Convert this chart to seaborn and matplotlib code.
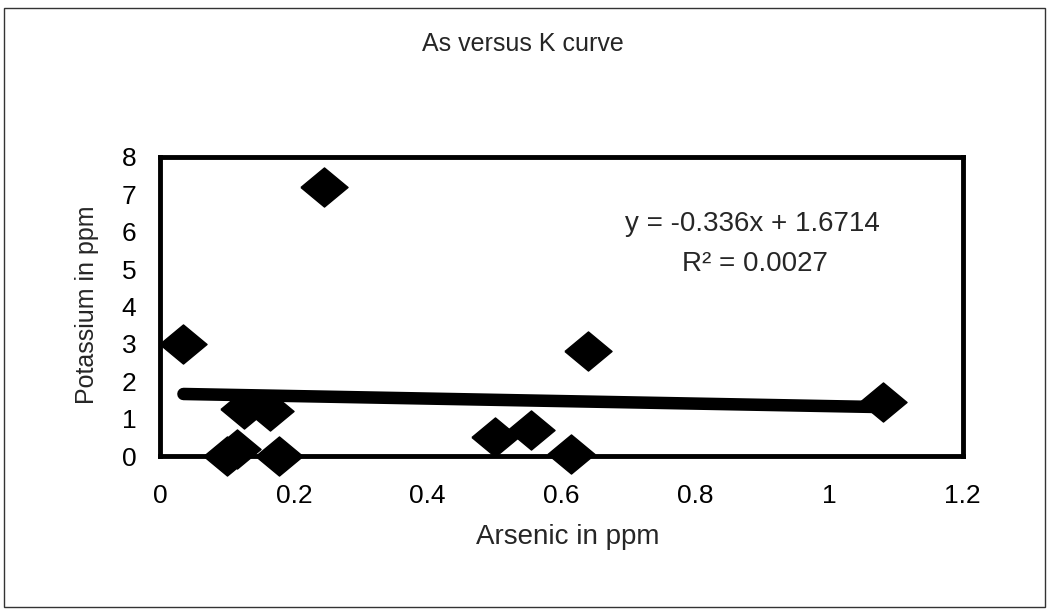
import numpy as np
import pandas as pd
import matplotlib
matplotlib.use("Agg")
import matplotlib.pyplot as plt
from matplotlib.markers import MarkerStyle
from matplotlib.patches import Rectangle
import seaborn as sns

# Sample measurements (ppm)
arsenic_ppm = [0.035, 0.245, 0.125, 0.165, 0.10, 0.115, 0.178, 0.50, 0.555, 0.615, 0.64, 1.08]
potassium_ppm = [3.0, 7.2, 1.25, 1.2, 0.0, 0.2, 0.0, 0.5, 0.7, 0.05, 2.8, 1.45]

# Linear trendline reported for the series
trend_slope = -0.336
trend_intercept = 1.6714
r_squared = 0.0027

x_ticks = [0, 0.2, 0.4, 0.6, 0.8, 1.0, 1.2]
x_tick_labels = ["0", "0.2", "0.4", "0.6", "0.8", "1", "1.2"]
y_ticks = [0, 1, 2, 3, 4, 5, 6, 7, 8]

sns.set_style("white")
plt.rcParams["font.family"] = ["Liberation Sans", "DejaVu Sans"]

df = pd.DataFrame({"Arsenic in ppm": arsenic_ppm, "Potassium in ppm": potassium_ppm})

fig = plt.figure(figsize=(10.48, 6.14), dpi=100)
ax = fig.add_axes([0.1527, 0.2573, 0.766, 0.487])

# slightly flattened diamond marker
diamond = MarkerStyle([(-1.0, 0.0), (0.0, 0.83), (1.0, 0.0), (0.0, -0.83), (-1.0, 0.0)])

sns.scatterplot(data=df, x="Arsenic in ppm", y="Potassium in ppm", ax=ax,
                marker=diamond, s=1150, color="black", edgecolor="black",
                linewidth=1, zorder=3, clip_on=False, legend=False)

# trendline across the sampled arsenic range
tx = np.array([min(arsenic_ppm), max(arsenic_ppm)])
ty = trend_slope * tx + trend_intercept
ax.plot(tx, ty, color="black", lw=9, solid_capstyle="round", zorder=4, clip_on=False)

ax.set_xlim(0, 1.2)
ax.set_ylim(0, 8)
ax.set_xticks(x_ticks)
ax.set_xticklabels(x_tick_labels)
ax.set_yticks(y_ticks)
ax.tick_params(axis="both", length=0, labelsize=19, colors="black")
ax.tick_params(axis="x", pad=20)
ax.tick_params(axis="y", pad=17)
ax.set_xlabel("")
ax.set_ylabel("")

for side in ["left", "right", "top", "bottom"]:
    ax.spines[side].set_visible(True)
    ax.spines[side].set_color("black")
    ax.spines[side].set_linewidth(3.5)

fig.text(0.499, 1 - 44 / 614, "As versus K curve", ha="center", va="center", fontsize=18)
fig.text(568 / 1048, 1 - 537 / 614, "Arsenic in ppm", ha="center", va="center", fontsize=20)
fig.text(87 / 1048, 1 - 305 / 614, "Potassium in ppm", ha="center", va="center",
         rotation=90, fontsize=18)

fig.text(752 / 1048, 1 - 224 / 614, f"y = {trend_slope}x + {trend_intercept}",
         ha="center", va="center", fontsize=20)
fig.text(755 / 1048, 1 - 264 / 614, f"R² = {r_squared}", ha="center", va="center", fontsize=20)

# outer chart frame
fig.patches.append(Rectangle((0.004, 0.012), 0.993, 0.975, transform=fig.transFigure,
                             fill=False, edgecolor="#333333", lw=1.0))

fig.savefig("out.png", dpi=100, facecolor="white")
